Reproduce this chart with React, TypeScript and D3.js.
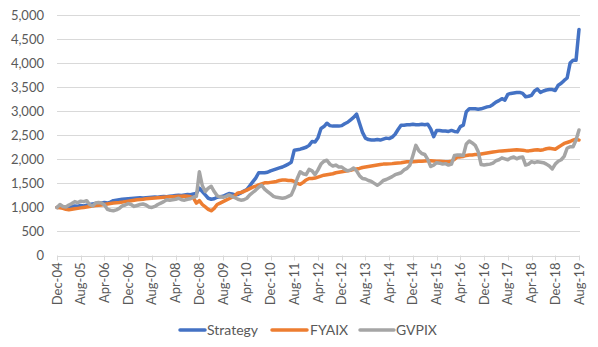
import React from "react";
import * as d3 from "d3";

const tickLabels = ["Dec-04","Aug-05","Apr-06","Dec-06","Aug-07","Apr-08","Dec-08","Aug-09","Apr-10","Dec-10","Aug-11","Apr-12","Dec-12","Aug-13","Apr-14","Dec-14","Aug-15","Apr-16","Dec-16","Aug-17","Apr-18","Dec-18","Aug-19"];
const yTicks = [0,500,1000,1500,2000,2500,3000,3500,4000,4500,5000];
const seriesNames = ["Strategy","FYAIX","GVPIX"];
const seriesColors = ["#4472C4","#ED7D31","#A5A5A5"];

const strategy = [
  1000,1010,1000,990,1005,1020,1030,1025,
  1040,1030,1045,1060,1070,1080,1085,1090,
  1100,1090,1110,1140,1150,1160,1170,1175,
  1180,1185,1190,1195,1200,1195,1200,1205,
  1210,1215,1210,1220,1225,1220,1230,1240,
  1250,1255,1250,1260,1270,1265,1280,1290,
  1400,1330,1260,1190,1170,1180,1210,1220,
  1230,1260,1290,1280,1260,1270,1300,1340,
  1370,1450,1530,1610,1720,1720,1720,1730,
  1760,1780,1800,1820,1840,1870,1900,1940,
  2190,2200,2210,2230,2250,2290,2370,2360,
  2450,2640,2680,2750,2700,2690,2690,2690,
  2700,2740,2770,2820,2870,2940,2750,2560,
  2440,2410,2400,2400,2410,2400,2420,2440,
  2430,2460,2520,2620,2710,2710,2720,2720,
  2730,2720,2720,2730,2720,2730,2630,2470,
  2600,2600,2590,2590,2580,2600,2580,2570,
  2680,2710,2990,3050,3050,3050,3040,3050,
  3070,3090,3100,3140,3190,3220,3260,3230,
  3350,3370,3380,3390,3390,3370,3300,3310,
  3330,3420,3460,3390,3420,3440,3450,3450,
  3430,3540,3580,3640,3690,4000,4060,4060,4700
];

const fyaix = [
  1000,990,980,960,950,960,970,980,
  990,1000,1010,1020,1030,1040,1045,1050,
  1060,1070,1080,1090,1095,1100,1110,1120,
  1130,1140,1150,1160,1165,1170,1180,1185,
  1190,1195,1200,1205,1210,1215,1220,1220,
  1225,1230,1230,1235,1230,1220,1200,1090,
  1140,1060,1010,960,930,980,1060,1090,
  1120,1150,1180,1210,1250,1300,1310,1330,
  1360,1390,1420,1440,1470,1490,1510,1510,
  1520,1530,1540,1560,1570,1570,1560,1560,
  1540,1500,1480,1520,1570,1600,1600,1610,
  1630,1650,1670,1680,1690,1700,1720,1730,
  1740,1750,1760,1770,1790,1800,1810,1830,
  1840,1850,1860,1870,1880,1890,1900,1900,
  1905,1910,1920,1925,1930,1940,1950,1950,
  1950,1955,1960,1960,1965,1970,1970,1965,
  1960,1960,1955,1950,1950,1960,2000,2050,
  2050,2060,2080,2090,2090,2100,2100,2110,
  2120,2130,2140,2150,2160,2170,2175,2180,
  2185,2190,2195,2200,2195,2190,2180,2175,
  2185,2195,2200,2190,2200,2220,2230,2220,
  2210,2250,2290,2330,2350,2370,2400,2420,2400
];

const gvpix = [
  1000,1060,1020,1010,1050,1080,1120,1100,
  1130,1120,1140,1060,1030,1090,1100,1090,
  1050,960,940,930,950,980,1030,1050,
  1080,1060,1020,1040,1060,1070,1050,1010,
  1000,1020,1060,1090,1120,1160,1150,1160,
  1170,1190,1160,1150,1170,1180,1210,1230,
  1740,1450,1330,1400,1440,1330,1240,1220,
  1210,1230,1260,1230,1200,1170,1150,1160,
  1190,1260,1310,1360,1420,1460,1380,1330,
  1280,1230,1210,1200,1190,1200,1230,1260,
  1400,1600,1740,1700,1680,1790,1760,1680,
  1780,1900,1960,1980,1900,1860,1880,1840,
  1840,1790,1760,1780,1820,1760,1660,1600,
  1590,1560,1540,1500,1460,1500,1560,1580,
  1610,1640,1680,1700,1720,1780,1810,1880,
  2080,2290,2180,2120,2100,2000,1850,1880,
  1930,1920,1900,1910,1880,1900,2080,2090,
  2090,2080,2320,2380,2340,2290,2160,1890,
  1880,1890,1900,1920,1970,1990,2030,2010,
  1990,2030,2050,2010,2040,2050,1880,1900,
  1950,1930,1950,1940,1930,1900,1860,1800,
  1900,1960,1990,2060,2230,2260,2260,2400,2610
];

const W = 598, H = 347;
const plotL = 57, plotR = 579, plotT = 15, plotB = 255.5;
const font = "Lato, 'Open Sans', sans-serif";
const textColor = "#595959";

export default function App() {
  const allSeries = [strategy, fyaix, gvpix];
  const n = strategy.length;
  const x = d3.scaleLinear().domain([0, n - 1]).range([plotL, plotR]);
  const y = d3.scaleLinear().domain([0, 5000]).range([plotB, plotT]);
  const line = d3.line<number>().x((_, i) => x(i)).y(d => y(d));
  const step = 8;

  const legendItems = [
    { x0: 180, x1: 205, tx: 207 },
    { x0: 272, x1: 307, tx: 310 },
    { x0: 360, x1: 394, tx: 396 },
  ];

  return (
    <svg width={W} height={H} style={{ position: "absolute", left: 0, top: 0, background: "#fff" }}>
      <rect x={0} y={0} width={W} height={H} fill="#fff" />
      {yTicks.map(t => (
        <g key={t}>
          <line x1={plotL} x2={plotR + 1} y1={Math.round(y(t)) + 0.5} y2={Math.round(y(t)) + 0.5} stroke="#D9D9D9" strokeWidth={1} />
          <text x={44} y={y(t)} dy="0.35em" textAnchor="end" fontFamily={font} fontSize={13} fill={textColor}>
            {d3.format(",")(t)}
          </text>
        </g>
      ))}
      {tickLabels.map((lab, k) => {
        const xi = x(k * step);
        return (
          <g key={lab}>
            <line x1={Math.round(xi) + 0.5} x2={Math.round(xi) + 0.5} y1={plotB} y2={plotB + 5} stroke="#D9D9D9" strokeWidth={1} />
            <text transform={`translate(${xi},${plotB + 7}) rotate(-90)`} dy="0.35em" textAnchor="end" fontFamily={font} fontSize={13} fill={textColor}>
              {lab}
            </text>
          </g>
        );
      })}
      {allSeries.map((s, si) => (
        <path key={si} d={line(s) || ""} fill="none" stroke={seriesColors[si]} strokeWidth={3.5} strokeLinejoin="round" strokeLinecap="round" />
      ))}
      {seriesNames.map((name, si) => (
        <g key={name}>
          <line x1={legendItems[si].x0} x2={legendItems[si].x1} y1={330} y2={330} stroke={seriesColors[si]} strokeWidth={3.5} strokeLinecap="round" />
          <text x={legendItems[si].tx} y={330} dy="0.35em" fontFamily={font} fontSize={14} fill={textColor}>{name}</text>
        </g>
      ))}
    </svg>
  );
}
